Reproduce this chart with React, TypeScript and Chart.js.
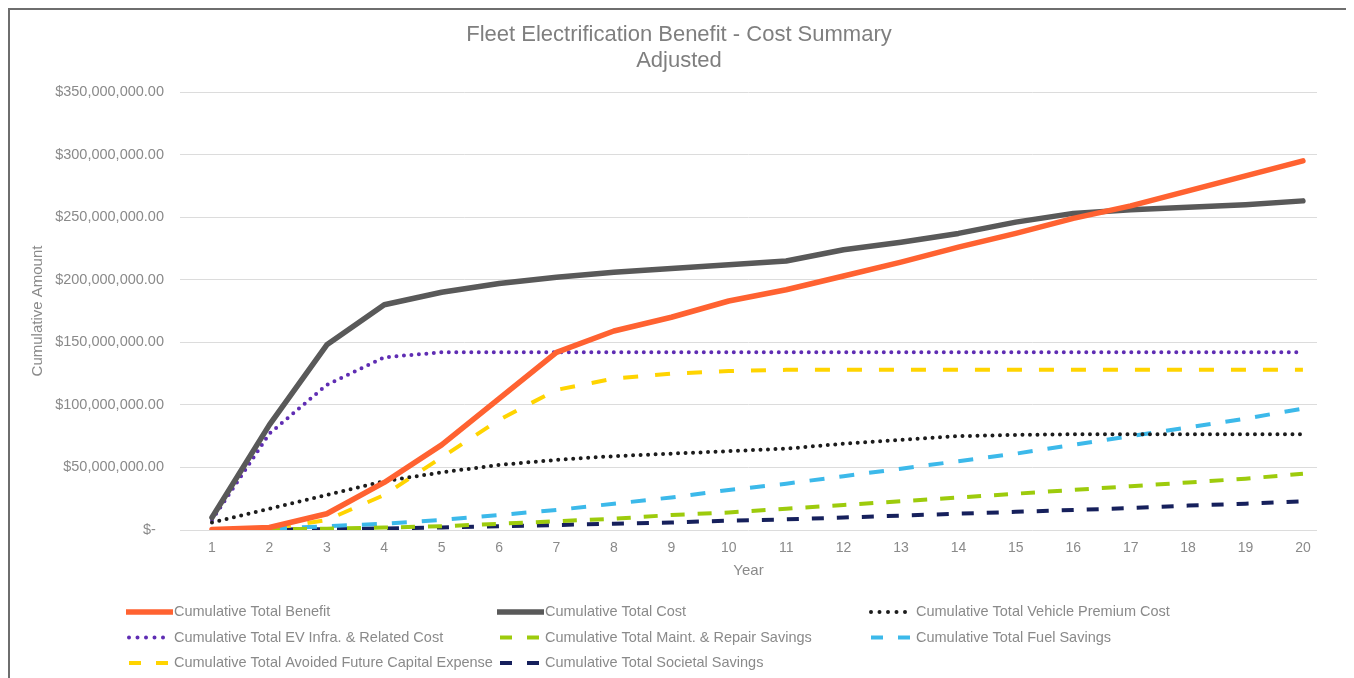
import React, { useEffect, useRef } from "react";
import { Chart, registerables } from "chart.js";

Chart.register(...registerables);

// Year index along the horizontal axis
const years = [1, 2, 3, 4, 5, 6, 7, 8, 9, 10, 11, 12, 13, 14, 15, 16, 17, 18, 19, 20];

// Cumulative amounts, in millions of dollars
const totalBenefit = [0.5, 2, 13, 38, 68, 105, 142, 159, 170, 183, 192, 203, 214, 226, 237, 249, 259, 271, 283, 295];
const totalCost = [10, 84, 148, 180, 190, 197, 202, 206, 209, 212, 215, 224, 230, 237, 246, 253, 256, 258, 260, 263];
const vehiclePremiumCost = [6, 17, 28, 39, 46, 52, 56, 59, 61, 63, 65, 69, 72, 75, 76, 76.5, 76.5, 76.5, 76.5, 76.5];
const evInfraCost = [8, 77, 116, 138, 142, 142, 142, 142, 142, 142, 142, 142, 142, 142, 142, 142, 142, 142, 142, 142];
const maintRepairSavings = [0, 0.5, 1, 2, 3, 5, 7, 9, 12, 14, 17, 20, 23, 26, 29, 32, 35, 38, 41, 45];
const fuelSavings = [0, 1, 3, 5, 8, 12, 16, 21, 26, 32, 37, 43, 49, 55, 61, 68, 75, 82, 89, 97];
const avoidedCapitalExpense = [0, 1, 8, 28, 58, 88, 112, 121, 125, 127, 128, 128, 128, 128, 128, 128, 128, 128, 128, 128];
const societalSavings = [0, 0.3, 0.7, 1.2, 2, 3, 4, 5, 6, 7.5, 8.5, 10, 11.5, 13, 14.5, 16, 17.5, 19.5, 21, 23];

const titleLines = ["Fleet Electrification Benefit - Cost Summary", "Adjusted"];

const FONT = '"Liberation Sans", Arial, Helvetica, sans-serif';
const TEXT = "#8a8a8a";

const formatDollars = (millions: number) =>
  millions === 0
    ? "$-  "
    : "$" + (millions * 1e6).toLocaleString("en-US", { minimumFractionDigits: 2, maximumFractionDigits: 2 });

// Two-line heading centred over the whole chart frame
const frameTitle = {
  id: "frameTitle",
  afterDraw(chart: any, _args: any, opts: any) {
    const ctx = chart.ctx as CanvasRenderingContext2D;
    ctx.save();
    ctx.fillStyle = opts.color;
    ctx.font = `${opts.size}px ${FONT}`;
    ctx.textAlign = "center";
    ctx.textBaseline = "middle";
    opts.lines.forEach((line: string, i: number) => {
      ctx.fillText(line, opts.centerX, opts.top + i * opts.lineHeight);
    });
    ctx.restore();
  },
};

// Legend laid out as a fixed three-column grid under the plot
const gridLegend = {
  id: "gridLegend",
  afterDraw(chart: any, _args: any, opts: any) {
    const ctx = chart.ctx as CanvasRenderingContext2D;
    ctx.save();
    chart.data.datasets.forEach((ds: any, i: number) => {
      const col = i % opts.columns;
      const row = Math.floor(i / opts.columns);
      const x = opts.left + col * opts.colWidth;
      const y = opts.top + row * opts.rowHeight;
      ctx.beginPath();
      ctx.setLineDash(ds.legendDash || ds.borderDash || []);
      ctx.lineWidth = ds.borderWidth;
      ctx.strokeStyle = ds.borderColor;
      ctx.lineCap = ds.legendCap || ds.borderCapStyle || "butt";
      ctx.moveTo(x + (ds.legendInset || 0), y);
      ctx.lineTo(x + opts.sample - (ds.legendInset || 0), y);
      ctx.stroke();
      ctx.setLineDash([]);
      ctx.fillStyle = opts.color;
      ctx.font = `14.5px ${FONT}`;
      ctx.textAlign = "left";
      ctx.textBaseline = "middle";
      ctx.fillText(ds.label, x + opts.sample + 1, y);
    });
    ctx.restore();
  },
};

export default function App() {
  const canvasRef = useRef<HTMLCanvasElement | null>(null);

  useEffect(() => {
    document.body.style.overflow = "hidden";
    const canvas = canvasRef.current;
    if (!canvas) return;

    const solid = (label: string, data: number[], color: string) => ({
      label,
      data: years.map((x, i) => ({ x, y: data[i] })),
      borderColor: color,
      backgroundColor: color,
      borderWidth: 5.5,
      borderCapStyle: "round",
      borderJoinStyle: "round",
      legendCap: "butt",
      pointRadius: 0,
      tension: 0,
      fill: false,
    });
    const dotted = (label: string, data: number[], color: string) => ({
      label,
      data: years.map((x, i) => ({ x, y: data[i] })),
      borderColor: color,
      backgroundColor: color,
      borderWidth: 4,
      borderDash: [0, 7.5],
      legendDash: [0, 8.5],
      legendInset: 3,
      borderCapStyle: "round",
      pointRadius: 0,
      tension: 0,
      fill: false,
    });
    const dashed = (label: string, data: number[], color: string, dash: number[]) => ({
      label,
      data: years.map((x, i) => ({ x, y: data[i] })),
      borderColor: color,
      backgroundColor: color,
      borderWidth: 4,
      borderDash: dash,
      legendDash: [12, 15],
      legendInset: 3,
      borderCapStyle: "butt",
      pointRadius: 0,
      tension: 0,
      fill: false,
    });

    const chart = new Chart(canvas, {
      type: "line",
      data: {
        datasets: [
          solid("Cumulative Total Benefit", totalBenefit, "#FF6231"),
          solid("Cumulative Total Cost", totalCost, "#595959"),
          dotted("Cumulative Total Vehicle Premium Cost", vehiclePremiumCost, "#1c1c1c"),
          dotted("Cumulative Total EV Infra. & Related Cost", evInfraCost, "#5f2db3"),
          dashed("Cumulative Total Maint. & Repair Savings", maintRepairSavings, "#9dcb0c", [14, 13]),
          dashed("Cumulative Total Fuel Savings", fuelSavings, "#3cb9ea", [15, 15]),
          dashed("Cumulative Total Avoided Future Capital Expense", avoidedCapitalExpense, "#ffd400", [15, 17]),
          dashed("Cumulative Total Societal Savings", societalSavings, "#16205c", [12, 13]),
        ] as any,
      },
      options: {
        animation: false,
        responsive: false,
        layout: { padding: { left: 0, right: 33, top: 82, bottom: 88 } },
        plugins: {
          legend: { display: false },
          tooltip: { enabled: false },
          title: { display: false },
          frameTitle: {
            lines: titleLines,
            centerX: 669,
            top: 25,
            lineHeight: 26,
            size: 22,
            color: "#7f7f7f",
          },
          gridLegend: {
            columns: 3,
            left: 116,
            colWidth: 371,
            top: 602,
            rowHeight: 25.5,
            sample: 47,
            color: TEXT,
          },
        } as any,
        scales: {
          x: {
            type: "linear",
            min: 0.443,
            max: 20.245,
            afterBuildTicks: (scale: any) => {
              scale.ticks = years.map((v) => ({ value: v }));
            },
            afterFit: (scale: any) => {
              scale.height = 60;
            },
            grid: { display: false, drawTicks: false },
            border: { display: false },
            ticks: {
              color: TEXT,
              font: { family: FONT, size: 14 },
              padding: 10,
              maxRotation: 0,
              autoSkip: false,
              callback: (v: any) => String(v),
            },
            title: {
              display: true,
              text: "Year",
              color: TEXT,
              font: { family: FONT, size: 15 },
              padding: { top: 0, bottom: 10 },
            },
          },
          y: {
            min: 0,
            max: 350,
            afterFit: (scale: any) => {
              scale.width = 170;
            },
            grid: { color: "#dcdcdc", lineWidth: 1, drawTicks: false },
            border: { display: false },
            ticks: {
              stepSize: 50,
              color: TEXT,
              font: { family: FONT, size: 14.5 },
              padding: 16,
              callback: (v: any) => formatDollars(Number(v)),
            },
            title: {
              display: true,
              text: "Cumulative Amount",
              color: TEXT,
              font: { family: FONT, size: 15 },
              padding: { top: 19, bottom: 0 },
            },
          },
        },
      },
      plugins: [frameTitle as any, gridLegend as any],
    });

    return () => chart.destroy();
  }, []);

  return (
    <div
      style={{
        width: 1342,
        height: 680,
        boxSizing: "border-box",
        borderTop: "2px solid #6e6e6e",
        borderLeft: "2px solid #6e6e6e",
        background: "#ffffff",
      }}
    >
      <canvas ref={canvasRef} width={1340} height={668} style={{ display: "block" }} />
    </div>
  );
}
